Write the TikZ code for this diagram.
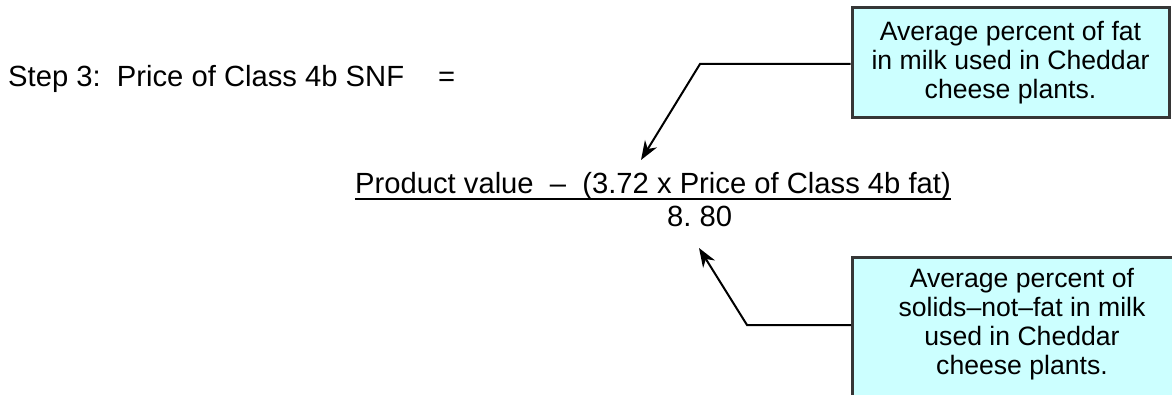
\documentclass[tikz,border=0pt]{standalone}
\usepackage{fontspec}
\setmainfont{Liberation Sans}
\usepackage{tikz}
\usetikzlibrary{positioning,arrows.meta,calc}
\definecolor{notecyan}{HTML}{CCFFFF}
\definecolor{edgegrey}{HTML}{363636}
\tikzset{
  note/.style={rectangle, draw=edgegrey, fill=notecyan, line width=3pt,
               align=center, inner sep=0pt},
  notetxt/.style={align=center, inner sep=0pt, font=\fontsize{26.6}{29}\selectfont},
  eqn/.style={inner sep=0pt, font=\fontsize{29.2}{32}\selectfont},
  ptr/.style={-{Stealth[length=19pt,width=14pt,inset=6pt]}, line width=2pt, draw=black},
}

\begin{document}
\begin{tikzpicture}[x=1pt,y=1pt]
  \path[use as bounding box, clip] (0,0) rectangle (1172,-395);

  % formula
  \node[eqn, anchor=base west] (step) at (8,-87) {Step 3:\ \ Price of Class 4b SNF\hspace{34pt}=};
  \node[eqn, anchor=base west] (num) at (355,-194) {Product value\ \ --\ \ (3.72 x Price of Class 4b fat)};
  \draw[line width=2pt] ([yshift=-5]num.base west) -- ([yshift=-5]num.base east);
  \node[eqn, anchor=base west] (den) at (667,-227) {8.\ 80};

  % notes
  \node[note, notetxt, minimum width=317, minimum height=110] (fatbox) at (1010.5,-63)
    {Average percent of fat\\in milk used in Cheddar\\cheese plants.};
  \node[note, minimum width=342, minimum height=200, anchor=north west] (snfbox) at (851,-256) {};
  \node[notetxt, anchor=north] (snftext) at (1022,-268)
    {Average percent of\\solids--not--fat in milk\\used in Cheddar\\cheese plants.};

  % pointers
  \coordinate (fatbend) at (700,-64);
  \coordinate (fattip)  at (641,-160);
  \coordinate (snfbend) at (747,-325);
  \coordinate (snftip)  at (699,-248);
  \draw[ptr] (fatbend -| fatbox.west) -- (fatbend) -- (fattip);
  \draw[ptr] (snfbend -| snfbox.west) -- (snfbend) -- (snftip);
\end{tikzpicture}
\end{document}
